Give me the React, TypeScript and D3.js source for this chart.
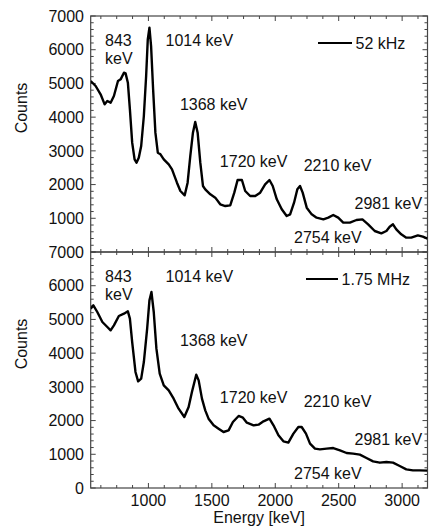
import React from 'react';
import { scaleLinear, line, range } from 'd3';

// spectrum at 52 kHz (top panel)
const energy52k = [545, 584, 623, 655, 676, 702, 728, 760, 781, 807, 820, 838, 854, 872, 891, 906, 924, 943, 964, 982, 995, 1008, 1021, 1037, 1055, 1074, 1095, 1121, 1160, 1186, 1225, 1252, 1286, 1309, 1330, 1351, 1369, 1388, 1409, 1430, 1448, 1488, 1527, 1566, 1606, 1645, 1677, 1703, 1737, 1763, 1802, 1842, 1881, 1920, 1954, 1980, 2012, 2051, 2090, 2117, 2148, 2174, 2195, 2216, 2248, 2287, 2326, 2379, 2418, 2457, 2496, 2536, 2588, 2640, 2687, 2732, 2784, 2836, 2876, 2902, 2928, 2954, 2993, 3033, 3072, 3124, 3163, 3200];
const counts52k = [5072, 4924, 4677, 4380, 4479, 4429, 4627, 5072, 5121, 5319, 5299, 5022, 4232, 3243, 2749, 2650, 2798, 3144, 4034, 5220, 6308, 6654, 6110, 4825, 3540, 2946, 2897, 2749, 2600, 2452, 2056, 1809, 1681, 2056, 2847, 3540, 3856, 3540, 2650, 1958, 1859, 1710, 1612, 1414, 1364, 1384, 1760, 2136, 2136, 1809, 1661, 1661, 1760, 2007, 2136, 1958, 1562, 1266, 1068, 1117, 1463, 1859, 1958, 1760, 1315, 1117, 1018, 969, 1018, 1097, 1018, 870, 870, 949, 969, 821, 623, 554, 623, 751, 821, 672, 524, 425, 425, 494, 455, 395];

// spectrum at 1.75 MHz (bottom panel)
const energy175M = [545, 566, 597, 637, 676, 702, 728, 767, 807, 838, 854, 872, 898, 919, 943, 964, 990, 1008, 1024, 1042, 1063, 1089, 1121, 1160, 1199, 1238, 1283, 1317, 1343, 1377, 1396, 1422, 1448, 1474, 1514, 1553, 1592, 1632, 1666, 1711, 1745, 1776, 1829, 1868, 1907, 1954, 1986, 2025, 2064, 2103, 2143, 2182, 2208, 2242, 2274, 2313, 2352, 2405, 2457, 2510, 2562, 2614, 2667, 2719, 2771, 2824, 2876, 2928, 2981, 3033, 3085, 3137, 3200];
const counts175M = [5319, 5418, 5220, 4924, 4775, 4677, 4825, 5102, 5171, 5240, 5022, 4330, 3441, 3164, 3243, 3737, 4726, 5566, 5813, 5220, 4133, 3391, 3045, 2897, 2650, 2353, 2106, 2403, 2847, 3361, 3193, 2650, 2304, 2056, 1859, 1760, 1661, 1710, 1958, 2136, 2086, 1938, 1859, 1879, 1978, 2056, 1859, 1562, 1384, 1345, 1612, 1809, 1809, 1612, 1315, 1167, 1147, 1167, 1186, 1117, 1038, 1018, 989, 890, 791, 751, 771, 751, 653, 554, 524, 524, 514];

const energyTicks = [1000, 1500, 2000, 2500, 3000];
const countTicks = [0, 1000, 2000, 3000, 4000, 5000, 6000, 7000];

// peak annotations (text anchored at energy / counts of its left baseline)
const peakLabels = ['843\nkeV', '1014 keV', '1368 keV', '1720 keV', '2210 keV', '2981 keV', '2754 keV'];
const peakEnergy = [658, 1135, 1248, 1563, 2224, 2625, 2148];
const peakCounts = [6100, 6110, 4200, 2520, 2410, 1270, 280];

const seriesNames = ['52 kHz', '1.75 MHz'];

const W = 429;
const H = 531;
const left = 90.7;
const right = 427.5;
const panelH = 236;
const tops = [16, 252];
const font = '"Liberation Sans", Arial, Helvetica, sans-serif';

const x = scaleLinear().domain([545, 3200]).range([left, right]);

function Panel({ idx, energy, counts }: { idx: number; energy: number[]; counts: number[] }) {
  const top = tops[idx];
  const bottom = top + panelH;
  const y = scaleLinear().domain([0, 7000]).range([bottom, top]);
  const pts = energy.map((e, i) => [e, counts[i]] as [number, number]);
  const path = line<[number, number]>()
    .x(d => x(d[0]))
    .y(d => y(d[1]))(pts);

  const xMinor = range(625, 3200, 125);
  const yMinor = range(0, 7001, 200);
  const clipId = 'clip' + idx;
  const legendX = idx === 0 ? 318 : 306;
  const legendLen = idx === 0 ? 34 : 32;
  const yLabels = idx === 0 ? countTicks.filter(v => v > 0) : countTicks;

  return (
    <g>
      <defs>
        <clipPath id={clipId}>
          <rect x={left} y={top} width={right - left} height={panelH} />
        </clipPath>
      </defs>
      {/* ticks */}
      <g stroke="#444" strokeWidth={1}>
        {xMinor.map(v => {
          const len = v % 500 === 0 ? 5 : 3;
          return (
            <g key={'x' + v}>
              <line x1={x(v)} x2={x(v)} y1={bottom} y2={bottom - len} />
              <line x1={x(v)} x2={x(v)} y1={top} y2={top + len} />
            </g>
          );
        })}
        {yMinor.map(v => {
          const len = v % 1000 === 0 ? 5 : 3;
          return (
            <g key={'y' + v}>
              <line x1={left} x2={left + len} y1={y(v)} y2={y(v)} />
              <line x1={right} x2={right - len} y1={y(v)} y2={y(v)} />
            </g>
          );
        })}
      </g>
      <rect x={left} y={top} width={right - left} height={panelH} fill="none" stroke="#444" strokeWidth={1.2} />
      {yLabels.map(v => (
        <text key={'yl' + v} x={84} y={y(v)} dy="0.36em" textAnchor="end" fontSize={16} fontFamily={font} fill="#111">
          {v}
        </text>
      ))}
      <text
        transform={`translate(26.5,${top + 92}) rotate(-90)`}
        textAnchor="middle"
        fontSize={16}
        fontFamily={font}
        fill="#111"
      >
        Counts
      </text>
      <path d={path ?? ''} fill="none" stroke="#000" strokeWidth={2.4} strokeLinejoin="round" clipPath={`url(#${clipId})`} />
      {peakLabels.map((lab, i) => (
        <text key={lab} x={x(peakEnergy[i])} y={y(peakCounts[i])} fontSize={16} fontFamily={font} fill="#111">
          {lab.split('\n').map((part, j) => (
            <tspan key={j} x={x(peakEnergy[i])} dy={j === 0 ? 0 : 17.5}>
              {part}
            </tspan>
          ))}
        </text>
      ))}
      <line x1={legendX} x2={legendX + legendLen} y1={top + 27} y2={top + 27} stroke="#000" strokeWidth={2} />
      <text x={legendX + legendLen + 3.5} y={top + 33} fontSize={16} fontFamily={font} fill="#111">
        {seriesNames[idx]}
      </text>
    </g>
  );
}

export default function App() {
  const bottom = tops[1] + panelH;
  return (
    <svg width={W} height={H} style={{ position: 'absolute', left: 0, top: 0, background: '#fff' }}>
      <Panel idx={0} energy={energy52k} counts={counts52k} />
      <Panel idx={1} energy={energy175M} counts={counts175M} />
      {energyTicks.map(v => (
        <text key={'xl' + v} x={x(v)} y={bottom + 18} textAnchor="middle" fontSize={16} fontFamily={font} fill="#111">
          {v}
        </text>
      ))}
      <text x={(left + right) / 2} y={523} textAnchor="middle" fontSize={16} fontFamily={font} fill="#111">
        Energy [keV]
      </text>
    </svg>
  );
}
